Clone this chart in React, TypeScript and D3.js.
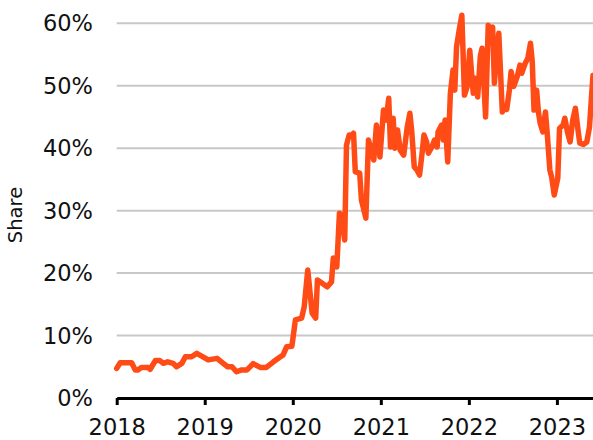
import React, { useEffect, useRef } from "react";
import * as d3 from "d3";

// decimal year of each reading
const years = [
  2018.0, 2018.04, 2018.17, 2018.21, 2018.24, 2018.28, 2018.36, 2018.38, 2018.44, 2018.49,
  2018.53, 2018.58, 2018.64, 2018.68, 2018.74, 2018.78, 2018.85, 2018.91, 2018.98, 2019.04,
  2019.14, 2019.21, 2019.26, 2019.31, 2019.36, 2019.42, 2019.48, 2019.55, 2019.63, 2019.7,
  2019.78, 2019.86, 2019.89, 2019.93, 2019.99, 2020.03, 2020.1, 2020.13, 2020.17, 2020.22,
  2020.26, 2020.28, 2020.33, 2020.39, 2020.44, 2020.46, 2020.5, 2020.53, 2020.55, 2020.59,
  2020.61, 2020.64, 2020.68, 2020.69, 2020.71, 2020.76, 2020.78, 2020.83, 2020.86, 2020.92,
  2020.95, 2020.99, 2021.03, 2021.06, 2021.09, 2021.11, 2021.14, 2021.16, 2021.19, 2021.22,
  2021.26, 2021.3, 2021.33, 2021.35, 2021.38, 2021.41, 2021.44, 2021.47, 2021.49, 2021.52,
  2021.54, 2021.58, 2021.61, 2021.64, 2021.65, 2021.69, 2021.71, 2021.73, 2021.76, 2021.79,
  2021.82, 2021.84, 2021.86, 2021.89, 2021.92, 2021.95, 2021.98, 2022.01, 2022.05, 2022.07,
  2022.1, 2022.13, 2022.15, 2022.19, 2022.22, 2022.25, 2022.27, 2022.29, 2022.32, 2022.34,
  2022.38, 2022.4, 2022.43, 2022.46, 2022.48, 2022.51, 2022.55, 2022.58, 2022.6, 2022.64,
  2022.67, 2022.7, 2022.72, 2022.74, 2022.77, 2022.79, 2022.81, 2022.84, 2022.87, 2022.89,
  2022.92, 2022.94, 2022.97, 2023.01, 2023.03, 2023.07, 2023.09, 2023.12, 2023.15, 2023.18,
  2023.21, 2023.24, 2023.26, 2023.3, 2023.34, 2023.37, 2023.41,
];

// share, percent
const share = [
  4.75, 5.65, 5.65, 4.5, 4.5, 4.9, 4.9, 4.6, 6.0, 6.0,
  5.55, 5.8, 5.55, 5.0, 5.55, 6.6, 6.6, 7.15, 6.6, 6.1,
  6.35, 5.55, 5.0, 5.0, 4.2, 4.5, 4.5, 5.5, 4.9, 4.9,
  5.8, 6.6, 6.9, 8.2, 8.3, 12.5, 12.8, 14.6, 20.5, 13.6,
  12.8, 18.9, 18.4, 17.8, 18.6, 22.4, 21.0, 29.6, 29.3, 25.3,
  40.5, 42.1, 42.1, 42.4, 36.2, 36.0, 31.7, 28.8, 41.3, 38.1,
  43.7, 38.6, 46.1, 44.5, 48.0, 40.2, 44.8, 40.0, 42.9, 39.7,
  38.9, 43.4, 45.6, 42.9, 37.0, 36.5, 35.7, 39.4, 42.1, 41.0,
  39.2, 40.2, 41.3, 40.2, 42.6, 43.7, 41.3, 44.5, 37.8, 48.8,
  52.5, 49.3, 56.2, 58.9, 61.3, 48.5, 49.8, 55.7, 48.8, 51.2,
  48.2, 54.7, 56.0, 45.0, 59.7, 58.9, 59.4, 50.4, 56.2, 58.4,
  45.8, 46.6, 46.2, 49.3, 52.3, 49.9, 51.5, 53.3, 52.0, 53.6,
  54.4, 56.8, 53.9, 46.1, 49.3, 45.8, 44.0, 42.6, 45.8, 42.4,
  36.5, 35.4, 32.5, 35.2, 43.2, 43.7, 44.8, 42.6, 41.0, 44.5,
  46.4, 42.9, 40.8, 40.6, 41.0, 43.4, 51.7,
];

const yTicks = [0, 10, 20, 30, 40, 50, 60];
const xTicks = [2018, 2019, 2020, 2021, 2022, 2023];

const W = 593;
const H = 440;
const FONT = "DejaVu Sans, sans-serif";

const ShareChart = () => {
  const ref = useRef<SVGSVGElement>(null);

  useEffect(() => {
    const svg = d3.select(ref.current);
    svg.selectAll("*").remove();

    const x = d3.scaleLinear().domain([2018, 2023.41]).range([116.7, W]);
    const y = d3.scaleLinear().domain([0, 60]).range([398, 23.3]);

    // gridlines
    svg.append("g")
      .selectAll("line")
      .data(yTicks.filter((d) => d > 0))
      .join("line")
      .attr("x1", x(2018))
      .attr("x2", W)
      .attr("y1", (d) => y(d))
      .attr("y2", (d) => y(d))
      .attr("stroke", "#c8c8c8")
      .attr("stroke-width", 2);

    svg.append("g")
      .selectAll("text")
      .data(yTicks)
      .join("text")
      .attr("x", 93)
      .attr("y", (d) => y(d))
      .attr("dy", "0.36em")
      .attr("text-anchor", "end")
      .attr("font-family", FONT)
      .attr("font-size", 22.5)
      .attr("fill", "#111")
      .text((d) => `${d}%`);

    // x axis
    const xAxis = svg.append("g")
      .attr("transform", `translate(0,${y(0)})`)
      .call(d3.axisBottom(x).tickValues(xTicks).tickFormat(d3.format("d")).tickSizeInner(7).tickSizeOuter(0).tickPadding(14));
    xAxis.select(".domain").attr("stroke", "#000").attr("stroke-width", 3);
    xAxis.selectAll(".tick line").attr("stroke", "#000").attr("stroke-width", 3);
    xAxis.selectAll(".tick text")
      .attr("font-family", FONT)
      .attr("font-size", 22.5)
      .attr("fill", "#111");

    const line = d3.line<number>()
      .x((_, i) => x(years[i]))
      .y((d) => y(d))
      .curve(d3.curveLinear);

    svg.append("path")
      .datum(share)
      .attr("d", line)
      .attr("fill", "none")
      .attr("stroke", "#ff4b16")
      .attr("stroke-width", 5.5)
      .attr("stroke-linejoin", "round")
      .attr("stroke-linecap", "round");

    svg.append("text")
      .attr("transform", `translate(22,215) rotate(-90)`)
      .attr("text-anchor", "middle")
      .attr("font-family", FONT)
      .attr("font-size", 19.5)
      .attr("fill", "#111")
      .text("Share");
  }, []);

  return (
    <svg
      ref={ref}
      width={W}
      height={H}
      style={{ position: "absolute", left: 0, top: 0, background: "#fff" }}
    />
  );
};

export default function App() {
  return <ShareChart />;
}
